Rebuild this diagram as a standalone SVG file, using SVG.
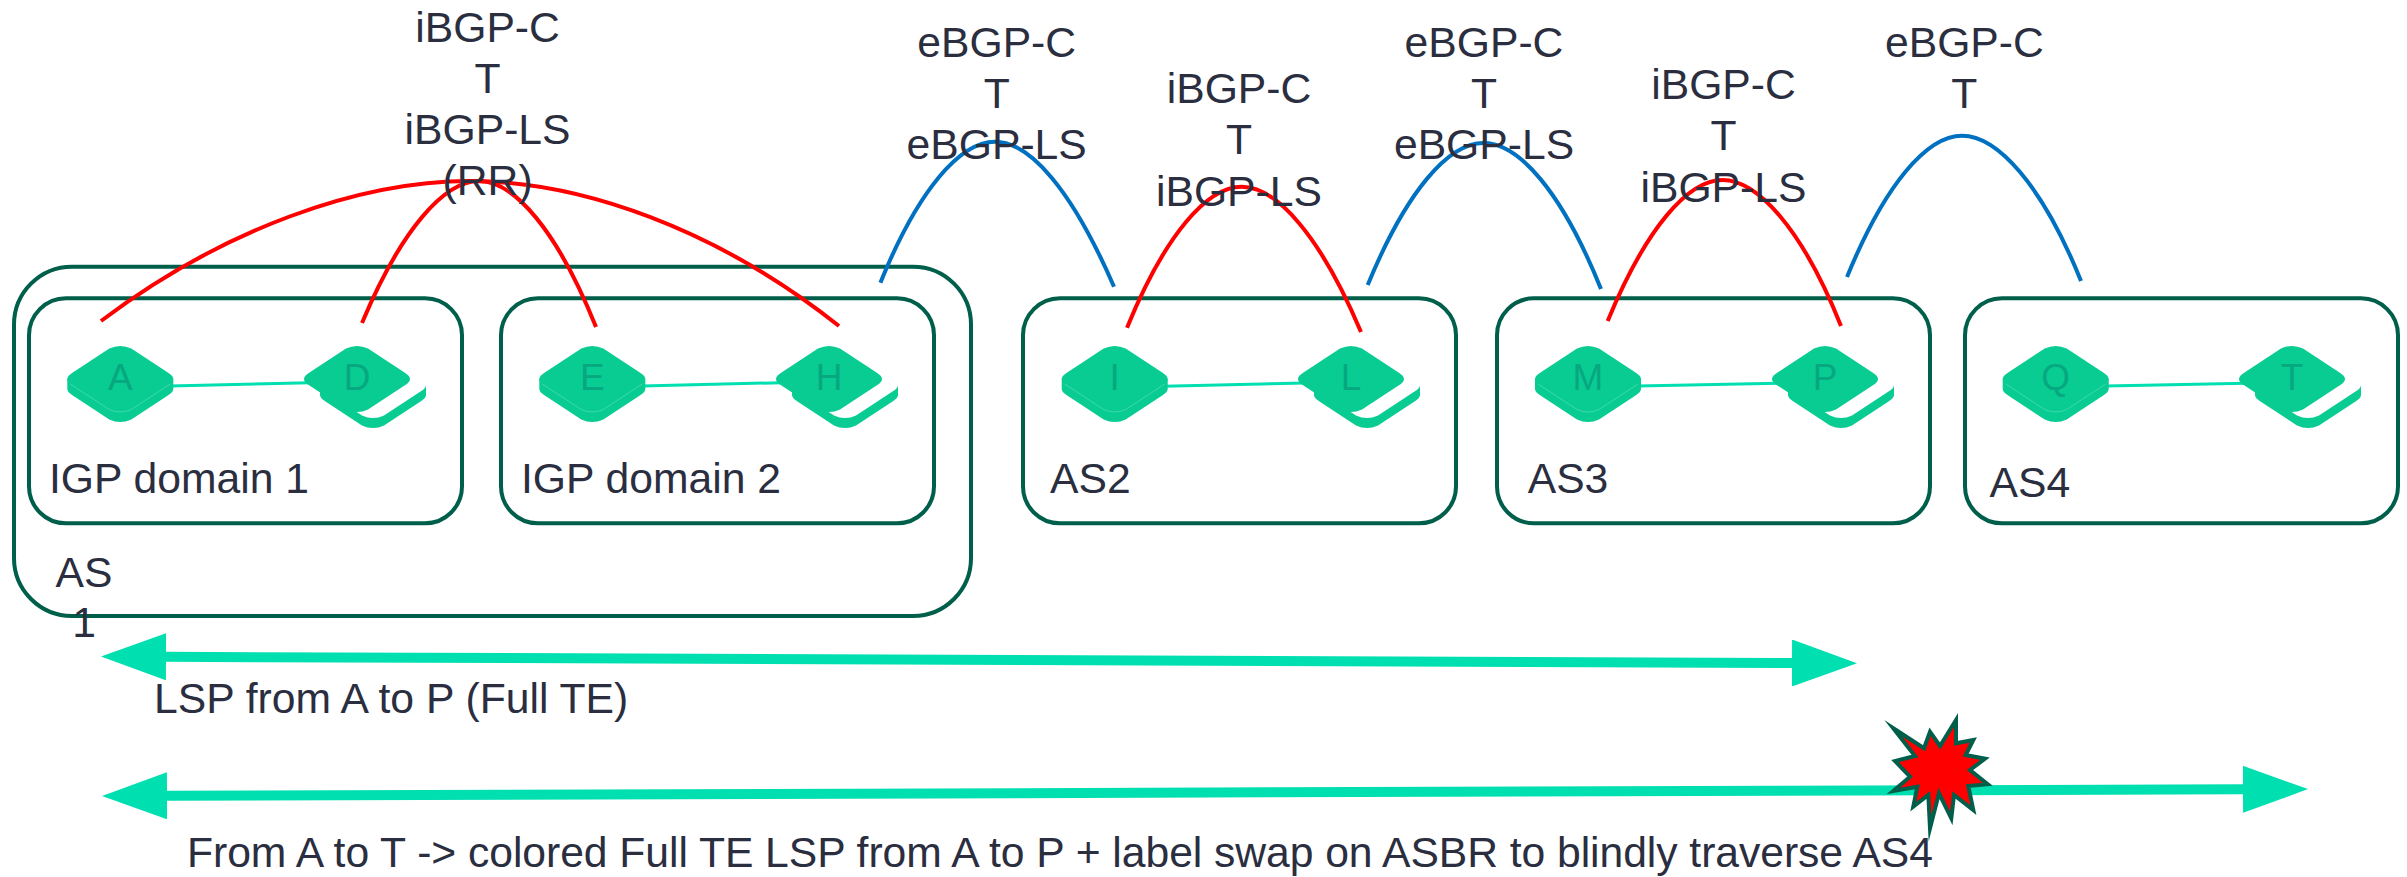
<svg xmlns="http://www.w3.org/2000/svg" width="2407" height="877" viewBox="0 0 2407 877">
<style>
text{font-family:"Liberation Sans",Arial,sans-serif;font-size:42.67px;fill:#2a2e3f}
.m{text-anchor:middle}
.l{font-size:37px;fill:#07a880;text-anchor:middle}
.box{fill:none;stroke:#005f4b;stroke-width:4}
.red{fill:none;stroke:#ff0000;stroke-width:4}
.blue{fill:none;stroke:#0070c0;stroke-width:4}
.link{stroke:#00dfb0;stroke-width:3;fill:none}
.lsp{stroke:#00dfb0;stroke-width:10;fill:none;marker-start:url(#head);marker-end:url(#head)}
</style>
<defs>
<marker id="head" markerUnits="userSpaceOnUse" markerWidth="65" markerHeight="47" refX="0" refY="23.5" orient="auto-start-reverse" viewBox="0 0 65 47"><path d="M0,0L65,23.5L0,47Z" fill="#00dfb0"/></marker>
<path id="face" d="M-11,-30.500Q0,-35.500 11,-30.500L47.500,-6.500Q58.500,0 47.500,6.500L11,30.500Q0,35.500 -11,30.500L-47.500,6.500Q-58.500,0 -47.500,-6.500Z"/>
<g id="router">
<path d="M-53,0V10Q-53,13 -47.500,16.500L-11,40.500Q0,45.500 11,40.500L47.500,16.500Q53,13 53,10V0Z" fill="#09cc93"/>
<use href="#face" fill="#09cc93"/>
<path d="M-50,5L-11,30.500Q0,35.500 11,30.500L50,5" fill="none" stroke="#5fe0bc" stroke-width=".6"/>
</g>
<g id="book">
<path transform="translate(16,6)" d="M-53,0V10Q-53,13 -47.500,16.500L-11,40.500Q0,45.500 11,40.500L47.500,16.500Q53,13 53,10V0Z" fill="#09cc93"/>
<use href="#face" transform="translate(16,6)" fill="#fff"/>
<use href="#face" fill="#09cc93"/>
</g>
</defs>
<g id="boxes">
<rect id="as1" class="box" x="14" y="266.7" width="957" height="349.3" rx="58" ry="58"/>
<rect id="igp1" class="box" x="29" y="298.3" width="433" height="225" rx="37" ry="37"/>
<rect id="igp2" class="box" x="501" y="298.3" width="433" height="225" rx="37" ry="37"/>
<rect id="as2" class="box" x="1023" y="298.3" width="433" height="225" rx="37" ry="37"/>
<rect id="as3" class="box" x="1497" y="298.3" width="433" height="225" rx="37" ry="37"/>
<rect id="as4" class="box" x="1965" y="298.3" width="433" height="225" rx="37" ry="37"/>
</g>
<g id="connectors">
<path class="link" d="M170,386L310,382.7"/>
<path class="link" d="M642,386L782,382.7"/>
<path class="link" d="M1164,386.3L1305,383"/>
<path class="link" d="M1638,386L1778,383.3"/>
<path class="link" d="M2106,386L2246,383.3"/>
<path class="red" d="M101,321C223,229 359,181 470,181S717,229 839,326"/>
<path class="red" d="M362,323C401,230 444,181 479,181S557,230 596,327"/>
<path class="blue" d="M880.400,282.700C918,190 960,141.700 995,141.700S1072,190 1114,286.700"/>
<path class="red" d="M1127,327.700C1165,235 1207,186.700 1241.600,186.700S1320,235 1361,332"/>
<path class="blue" d="M1367.700,285C1406,192 1448,143 1483.500,143S1562,192 1601,289"/>
<path class="red" d="M1607.700,321C1646,228 1688,180 1722.500,180S1802,228 1841,326"/>
<path class="blue" d="M1847,277C1885,184 1927,135.700 1962,135.700S2042,184 2081,281"/>
<path class="lsp" d="M166,656.800L1792,663"/>
<path class="lsp" d="M167,795.800L2243,789.300"/>
</g>
<g id="A"><use href="#router" x="120.300" y="379"/><text class="l" x="120.300" y="389.500">A</text></g>
<g id="D"><use href="#book" x="357" y="379"/><text class="l" x="357" y="389.500">D</text></g>
<g id="E"><use href="#router" x="592.300" y="379"/><text class="l" x="592.300" y="389.500">E</text></g>
<g id="H"><use href="#book" x="829" y="379"/><text class="l" x="829" y="389.500">H</text></g>
<g id="I"><use href="#router" x="1114.700" y="379"/><text class="l" x="1114.700" y="389.500">I</text></g>
<g id="L"><use href="#book" x="1351" y="379"/><text class="l" x="1351" y="389.500">L</text></g>
<g id="M"><use href="#router" x="1588" y="379"/><text class="l" x="1588" y="389.500">M</text></g>
<g id="P"><use href="#book" x="1825" y="379"/><text class="l" x="1825" y="389.500">P</text></g>
<g id="Q"><use href="#router" x="2055.700" y="379"/><text class="l" x="2055.700" y="389.500">Q</text></g>
<g id="T"><use href="#book" x="2292" y="379"/><text class="l" x="2292" y="389.500">T</text></g>
<g id="labels">
<text class="m" x="487.600" y="41.700">iBGP-C</text><text class="m" x="487.600" y="92.700">T</text><text class="m" x="487.600" y="144">iBGP-LS</text><text class="m" x="487.600" y="195">(RR)</text>
<text class="m" x="996.700" y="57.300">eBGP-C</text><text class="m" x="996.700" y="107.700">T</text><text class="m" x="996.700" y="159.300">eBGP-LS</text>
<text class="m" x="1239" y="103.300">iBGP-C</text><text class="m" x="1239" y="154">T</text><text class="m" x="1239" y="205.700">iBGP-LS</text>
<text class="m" x="1484" y="57.300">eBGP-C</text><text class="m" x="1484" y="107.700">T</text><text class="m" x="1484" y="159.300">eBGP-LS</text>
<text class="m" x="1723.500" y="99.300">iBGP-C</text><text class="m" x="1723.500" y="150">T</text><text class="m" x="1723.500" y="202">iBGP-LS</text>
<text class="m" x="1964.400" y="57.300">eBGP-C</text><text class="m" x="1964.400" y="107.700">T</text>
<text x="49" y="492.700">IGP domain 1</text>
<text x="521" y="492.700">IGP domain 2</text>
<text x="1050" y="492.700">AS2</text>
<text x="1527.700" y="492.700">AS3</text>
<text x="1989.500" y="496.700">AS4</text>
<text class="m" x="84" y="586.700">AS</text><text class="m" x="84" y="637">1</text>
<text x="154" y="713.300">LSP from A to P (Full TE)</text>
<text x="187" y="867.300" textLength="1746">From A to T -&gt; colored Full TE LSP from A to P + label swap on ASBR to blindly traverse AS4</text>
</g>
<polygon id="burst" fill="#ff0000" stroke="#005f4b" stroke-width="4" stroke-miterlimit="10" points="1893.300,728.300 1924,748.300 1930,731.700 1940,746 1956,720 1956,743.300 1973.300,740 1965.700,755 1985,758.700 1970,770 1987.700,784.300 1968.300,786 1973.300,810 1954,795 1951.300,818.300 1939,793.300 1930,828.300 1928.300,795 1913.300,806.700 1917.300,786.700 1893.300,791 1910,776.700 1895,761 1915,756"/>
</svg>
